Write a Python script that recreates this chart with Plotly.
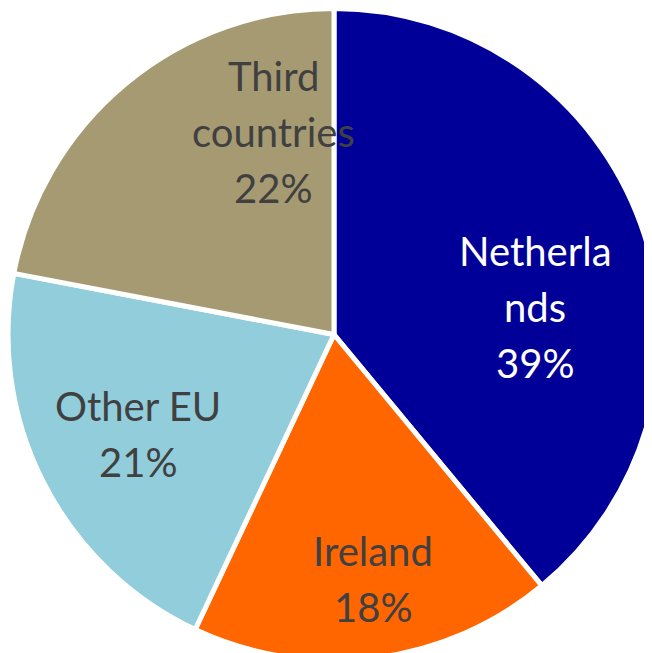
import plotly.graph_objects as go

labels = ['Netherlands', 'Ireland', 'Other EU', 'Third countries']
label_lines = [['Netherla', 'nds'], ['Ireland'], ['Other EU'], ['Third', 'countries']]
shares = [39, 18, 21, 22]
colors = ['#000099', '#FF6600', '#92CDDC', '#A69A72']
text_colors = ['#FFFFFF', '#404040', '#404040', '#404040']
# position of first text line (pixels)
label_pos = [(527, 250), (365, 550), (130, 405), (265, 75)]
line_step = 56

W, H = 652, 653

fig = go.Figure(go.Pie(
    labels=labels,
    values=shares,
    textinfo='none',
    sort=False,
    direction='clockwise',
    rotation=0,
    marker=dict(colors=colors, line=dict(color='white', width=5)),
    hoverinfo='label+percent',
))

# Excel-style labels placed by hand, one annotation per line
for lines, val, col, (px_, py_) in zip(label_lines, shares, text_colors, label_pos):
    for i, line in enumerate(lines + [f'{val}%']):
        y = py_ + i * line_step - 7
        fig.add_annotation(
            x=px_ / W, y=1 - y / H, xref='paper', yref='paper',
            text=line, showarrow=False,
            font=dict(family='Lato', size=40, color=col),
            xanchor='center', yanchor='middle',
        )

fig.update_layout(
    width=W,
    height=H,
    showlegend=False,
    margin=dict(l=0, r=0, t=0, b=0),
    paper_bgcolor='white',
)

fig.write_html("out.html")
